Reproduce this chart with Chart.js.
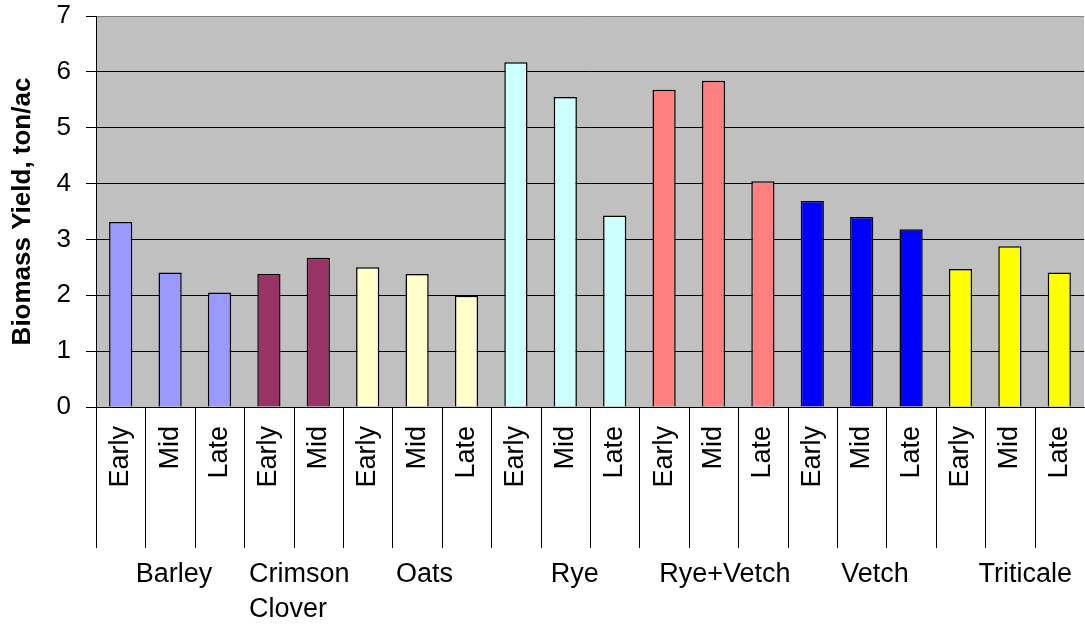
<!DOCTYPE html>
<html>
<head>
<meta charset="utf-8">
<script src="https://cdn.jsdelivr.net/npm/chart.js@4.4.1/dist/chart.umd.min.js"></script>
<style>
  html, body { margin: 0; padding: 0; background: #fff; }
  #wrap { width: 1085px; height: 625px; position: relative; }
</style>
</head>
<body>
<div id="wrap"><canvas id="c"></canvas></div>
<script>
// ---- data ----
const stages = ['Early','Mid','Late','Early','Mid','Early','Mid','Late','Early','Mid','Late','Early','Mid','Late','Early','Mid','Late','Early','Mid','Late'];
const crops  = ['Barley','Barley','Barley','Crimson Clover','Crimson Clover','Oats','Oats','Oats','Rye','Rye','Rye','Rye+Vetch','Rye+Vetch','Rye+Vetch','Vetch','Vetch','Vetch','Triticale','Triticale','Triticale'];
const yields = [3.31,2.41,2.05,2.38,2.67,2.50,2.38,1.99,6.17,5.55,3.43,5.68,5.84,4.04,3.69,3.40,3.18,2.47,2.88,2.41];
const groupNames  = ['Barley','Crimson Clover','Oats','Rye','Rye+Vetch','Vetch','Triticale'];
const groupLines  = [['Barley'],['Crimson','Clover'],['Oats'],['Rye'],['Rye+Vetch'],['Vetch'],['Triticale']];
const groupColors = ['#9999FF','#993366','#FFFFCC','#CCFFFF','#FF8080','#0000FF','#FFFF00'];
const yTicks = [0,1,2,3,4,5,6,7];
const yTitle = 'Biomass Yield, ton/ac';

const FONT = "'Liberation Sans', Arial, sans-serif";
const barColors = crops.map(c => groupColors[groupNames.indexOf(c)]);

const bgPlugin = {
  id: 'plotBg',
  beforeDraw(chart) {
    const { ctx, chartArea: a } = chart;
    ctx.save();
    ctx.fillStyle = '#C0C0C0';
    ctx.fillRect(a.left, a.top, a.right - a.left, a.bottom - a.top);
    ctx.restore();
  }
};

const groupPlugin = {
  id: 'groupLabels',
  afterDraw(chart) {
    const { ctx, chartArea: a } = chart;
    const xs = chart.scales.x;
    const half = (xs.getPixelForValue(1) - xs.getPixelForValue(0)) / 2;
    ctx.save();
    ctx.strokeStyle = '#000';
    ctx.lineWidth = 1;
    ctx.beginPath();
    for (let i = 0; i < stages.length; i++) {
      const px = Math.round(xs.getPixelForValue(i) - half) + 0.5;
      ctx.moveTo(px, a.bottom);
      ctx.lineTo(px, a.bottom + 141);
    }
    ctx.stroke();
    ctx.fillStyle = '#000';
    ctx.font = '27px ' + FONT;
    ctx.textAlign = 'left';
    ctx.textBaseline = 'alphabetic';
    groupNames.forEach((g, gi) => {
      const first = crops.indexOf(g);
      const last = crops.lastIndexOf(g);
      const center = (xs.getPixelForValue(first) + xs.getPixelForValue(last)) / 2;
      const cx = a.left + (center - a.left) * 1.0135 + 3;
      const w = Math.max(...groupLines[gi].map(l => ctx.measureText(l).width));
      const x0 = cx - w / 2;
      groupLines[gi].forEach((line, li) => {
        ctx.fillText(line, x0, a.bottom + 175 + li * 35);
      });
    });
    ctx.restore();
  }
};

new Chart(document.getElementById('c'), {
  type: 'bar',
  data: {
    labels: stages,
    datasets: [{
      data: yields,
      backgroundColor: barColors,
      borderColor: '#000',
      borderWidth: 1.5,
      barPercentage: 0.47,
      categoryPercentage: 1.0
    }]
  },
  options: {
    responsive: true,
    maintainAspectRatio: false,
    animation: false,
    devicePixelRatio: 1,
    layout: { padding: { top: 16, right: 1, left: 0, bottom: 0 } },
    plugins: { legend: { display: false }, tooltip: { enabled: false } },
    scales: {
      x: {
        grid: { display: false, drawTicks: false },
        border: { display: true, color: '#000', width: 1 },
        ticks: {
          color: '#000',
          font: { family: FONT, size: 27 },
          minRotation: 90,
          maxRotation: 90,
          autoSkip: false,
          padding: 19
        },
        afterFit(scale) { scale.height = 218; scale.paddingLeft = 0; scale.paddingRight = 0; }
      },
      y: {
        min: 0,
        max: 7,
        afterBuildTicks(scale) { scale.ticks = yTicks.map(v => ({ value: v })); },
        grid: {
          color: ctx => (ctx.tick && ctx.tick.value === 7 ? '#808080' : '#000'),
          lineWidth: 1,
          tickLength: 10,
          tickColor: '#000'
        },
        border: { display: true, color: '#000', width: 1 },
        ticks: {
          color: '#000',
          font: { family: FONT, size: 26 },
          padding: 15
        },
        title: {
          display: true,
          text: yTitle,
          color: '#000',
          font: { family: FONT, size: 26, weight: 'bold' },
          padding: { top: 7, bottom: 0 }
        },
        afterFit(scale) { scale.width = 96; scale.paddingTop = 0; scale.paddingBottom = 0; }
      }
    }
  },
  plugins: [bgPlugin, groupPlugin]
});
</script>
</body>
</html>
